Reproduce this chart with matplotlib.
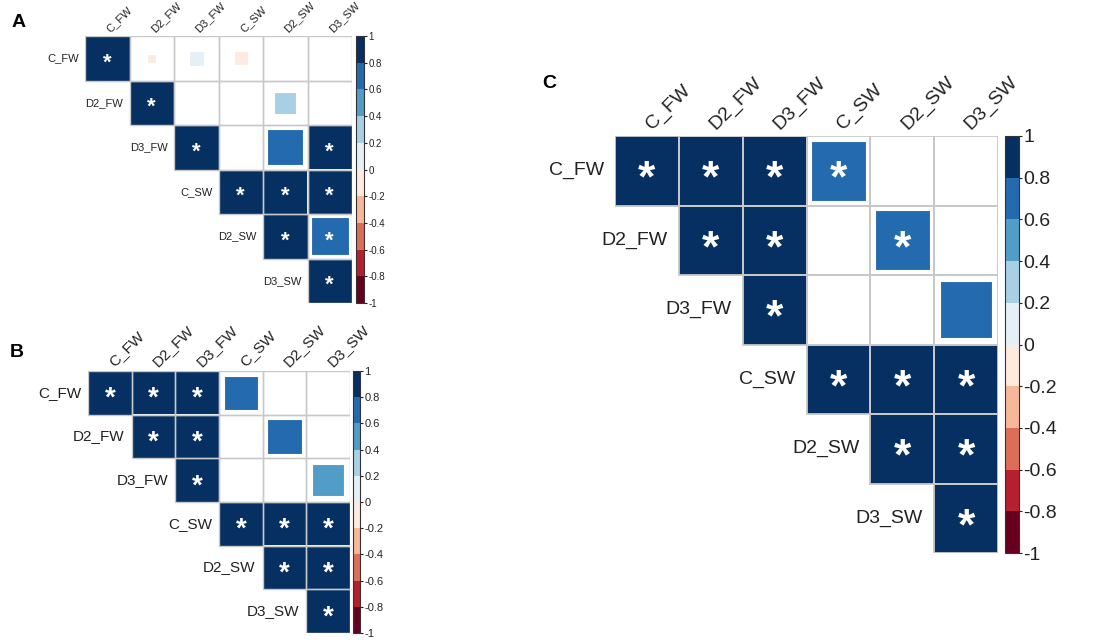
import numpy as np
import matplotlib
matplotlib.use('Agg')
import matplotlib.pyplot as plt
from matplotlib.colors import LinearSegmentedColormap, ListedColormap, BoundaryNorm
from matplotlib.patches import Rectangle
from matplotlib.cm import ScalarMappable

plt.rcParams['font.family'] = ['Liberation Sans', 'DejaVu Sans']

# 变量名
labels = ['C_FW', 'D2_FW', 'D3_FW', 'C_SW', 'D2_SW', 'D3_SW']

# 相关系数矩阵（上三角），读图估计
corr_a = [[1.00, -0.04, 0.11, -0.10, 0.00, 0.00],
          [0, 1.00, 0.00, 0.00, 0.25, 0.00],
          [0, 0, 1.00, 0.00, 0.66, 0.97],
          [0, 0, 0, 1.00, 0.97, 0.97],
          [0, 0, 0, 0, 1.00, 0.74],
          [0, 0, 0, 0, 0, 1.00]]
sig_a = [[1, 0, 0, 0, 0, 0],
         [0, 1, 0, 0, 0, 0],
         [0, 0, 1, 0, 0, 1],
         [0, 0, 0, 1, 1, 1],
         [0, 0, 0, 0, 1, 1],
         [0, 0, 0, 0, 0, 1]]

corr_b = [[1.00, 0.97, 0.97, 0.63, 0.00, 0.00],
          [0, 1.00, 0.97, 0.00, 0.63, 0.00],
          [0, 0, 1.00, 0.00, 0.00, 0.53],
          [0, 0, 0, 1.00, 0.97, 0.97],
          [0, 0, 0, 0, 1.00, 0.97],
          [0, 0, 0, 0, 0, 1.00]]
sig_b = [[1, 1, 1, 0, 0, 0],
         [0, 1, 1, 0, 0, 0],
         [0, 0, 1, 0, 0, 0],
         [0, 0, 0, 1, 1, 1],
         [0, 0, 0, 0, 1, 1],
         [0, 0, 0, 0, 0, 1]]

corr_c = [[1.00, 0.97, 0.97, 0.74, 0.00, 0.00],
          [0, 1.00, 0.97, 0.00, 0.74, 0.00],
          [0, 0, 1.00, 0.00, 0.00, 0.67],
          [0, 0, 0, 1.00, 0.97, 0.97],
          [0, 0, 0, 0, 1.00, 0.97],
          [0, 0, 0, 0, 0, 1.00]]
sig_c = [[1, 1, 1, 1, 0, 0],
         [0, 1, 1, 0, 1, 0],
         [0, 0, 1, 0, 0, 0],
         [0, 0, 0, 1, 1, 1],
         [0, 0, 0, 0, 1, 1],
         [0, 0, 0, 0, 0, 1]]

cbar_ticks = [-1, -0.8, -0.6, -0.4, -0.2, 0, 0.2, 0.4, 0.6, 0.8, 1]

# 仿 corrplot 的 COL2('RdBu') 10 色
base = ["#67001F", "#B2182B", "#D6604D", "#F4A582", "#FDDBC7", "#FFFFFF",
        "#D1E5F0", "#92C5DE", "#4393C3", "#2166AC", "#053061"]
ramp = LinearSegmentedColormap.from_list('ramp', base)
cmap = ListedColormap([ramp(t) for t in np.linspace(0, 1, 10)])
norm = BoundaryNorm(cbar_ticks, cmap.N)

W, H = 1099, 642
fig = plt.figure(figsize=(W / 100, H / 100), dpi=100)


def rect(x0, y0, x1, y1):
    return [x0 / W, 1 - y1 / H, (x1 - x0) / W, (y1 - y0) / H]


def draw_panel(grid_box, cbar_box, corr, sig, fs_lab, fs_star, fs_tick, gap, lw):
    ax = fig.add_axes(rect(*grid_box))
    n = len(labels)
    ax.set_xlim(0, n)
    ax.set_ylim(n, 0)
    ax.axis('off')
    corr = np.array(corr)
    for i in range(n):
        for j in range(i, n):
            r = corr[i, j]
            s = np.sqrt(abs(r))
            if s > 0:
                full = s > 0.95
                ax.add_patch(Rectangle((j + 0.5 - s / 2, i + 0.5 - s / 2), s, s,
                                       facecolor=cmap(norm(r)),
                                       edgecolor='none' if full else 'white',
                                       lw=0.8, zorder=1))
            ax.add_patch(Rectangle((j, i), 1, 1, fill=False, edgecolor='#c8c8c8',
                                   lw=lw, zorder=2))
            if sig[i][j]:
                ax.annotate('*', (j + 0.5, i + 0.5), xytext=(0, -0.47 * fs_star),
                            textcoords='offset points', ha='center', va='baseline',
                            color='white', fontsize=fs_star, fontweight='bold', zorder=3)
        # 行标签
        ax.annotate(labels[i], (i, i + 0.5), xytext=(-gap, 0), textcoords='offset points',
                    ha='right', va='center', fontsize=fs_lab, color='#222222')
        # 列标签
        ax.annotate(labels[i], (i + 0.5, 0), xytext=(0.4 * fs_lab, 0.15 * fs_lab),
                    textcoords='offset points',
                    ha='left', va='bottom', rotation=45, rotation_mode='anchor',
                    fontsize=fs_lab, color='#222222')

    cax = fig.add_axes(rect(*cbar_box))
    cb = fig.colorbar(ScalarMappable(norm=norm, cmap=cmap), cax=cax, ticks=cbar_ticks)
    cb.ax.set_yticklabels([f"{t:g}" for t in cbar_ticks])
    cb.ax.tick_params(labelsize=fs_tick, length=2.5, width=0.8, pad=0.5, colors='#222222')
    cb.outline.set_edgecolor('#333333')
    cb.outline.set_linewidth(0.8)
    return ax


draw_panel((85, 36, 352, 303), (356, 36, 364, 303), corr_a, sig_a, 8, 16, 7, 4.5, 1.0)
draw_panel((88, 371, 350, 633), (353, 371, 360, 633), corr_b, sig_b, 11, 20, 8, 5, 1.0)
draw_panel((615, 136, 998, 553), (1005, 136, 1019, 553), corr_c, sig_c, 14, 32, 14, 8, 1.3)

fig.text(12 / W, 1 - 27 / H, 'A', fontsize=14, fontweight='bold')
fig.text(10 / W, 1 - 357 / H, 'B', fontsize=14, fontweight='bold')
fig.text(542 / W, 1 - 88 / H, 'C', fontsize=14, fontweight='bold')

plt.savefig('out.png')
